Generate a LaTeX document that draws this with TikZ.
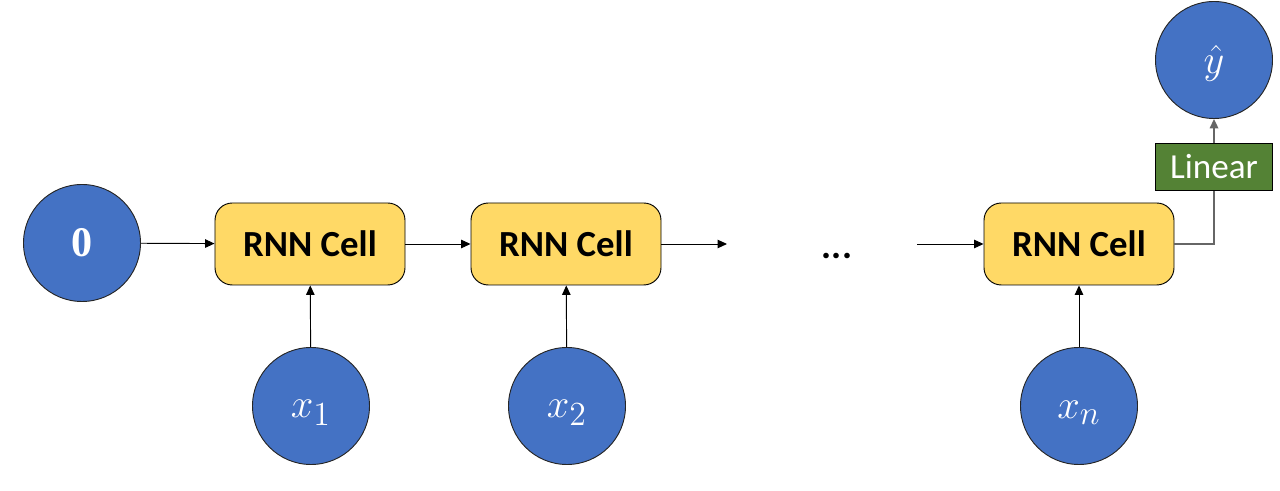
\documentclass[tikz,border=0pt]{standalone}
\usepackage{fontspec}
\setmainfont{Carlito}
\newfontfamily\zerofont{Liberation Serif}
\usetikzlibrary{arrows.meta}
\definecolor{cellblue}{HTML}{4472C4}
\definecolor{cellyellow}{HTML}{FFD966}
\definecolor{cellgreen}{HTML}{548235}
\begin{document}
\begin{tikzpicture}[x=0.015cm, y=-0.015cm, >={Triangle[length=4pt,width=3.6pt]},
				state/.style = {draw=black!85, circle, fill=cellblue, text=white, minimum size=1.755cm, inner sep=0pt, font=\fontsize{19}{19}\selectfont},
				cell/.style = {draw=black, rounded corners=2.6mm, fill=cellyellow, minimum width=2.85cm, minimum height=1.23cm, font=\fontsize{15.7}{16}\selectfont\bfseries},
				lin/.style = {draw=black, fill=cellgreen, text=white, minimum width=1.755cm, minimum height=0.7cm, inner sep=0pt, font=\fontsize{15}{15}\selectfont},
				lbl/.style = {text=white, inner sep=0pt, font=\fontsize{19}{19}\selectfont}]
				\useasboundingbox (0,0) rectangle (1280,491);

				\node[state] (h0) at (82,243) {\zerofont\fontsize{18}{18}\selectfont\bfseries 0};
				\node[cell] (c1) at (310,244) {RNN Cell};
				\node[cell] (c2) at (566,244) {RNN Cell};
				\node[cell] (cn) at (1079,244) {RNN Cell};

				\node[state] (x1) at (311,406) {};
				\node[state] (x2) at (567,406) {};
				\node[state] (xn) at (1079,406) {};
				\node[state] (yhat) at (1214,60) {};
				\node[lbl] (x1t) at (311,413) {$x_1$};
				\node[lbl] (x2t) at (567,413) {$x_2$};
				\node[lbl] (xnt) at (1079,413) {$x_n$};
				\node[lbl] (yhatt) at (1214,63) {$\hat{y}$};

				\node[lin] (lin) at (1214,167) {Linear};

				\node (dots) at (837,256) {\fontsize{16}{16}\selectfont\bfseries ...};
				\coordinate (out2) at (727,244);
				\coordinate (inn) at (917,244);

				\draw[->] (h0) -- (c1);
				\draw[->] (c1) -- (c2);
				\draw[->] (c2) -- (out2);
				\draw[->] (inn) -- (cn);
				\draw[->] (x1) -- (c1);
				\draw[->] (x2) -- (c2);
				\draw[->] (xn) -- (cn);
				\draw[black!60, thick] (cn.east) -| (lin.south);
				\draw[->, black!60, thick] (lin) -- (yhat);

			\end{tikzpicture}
\end{document}
